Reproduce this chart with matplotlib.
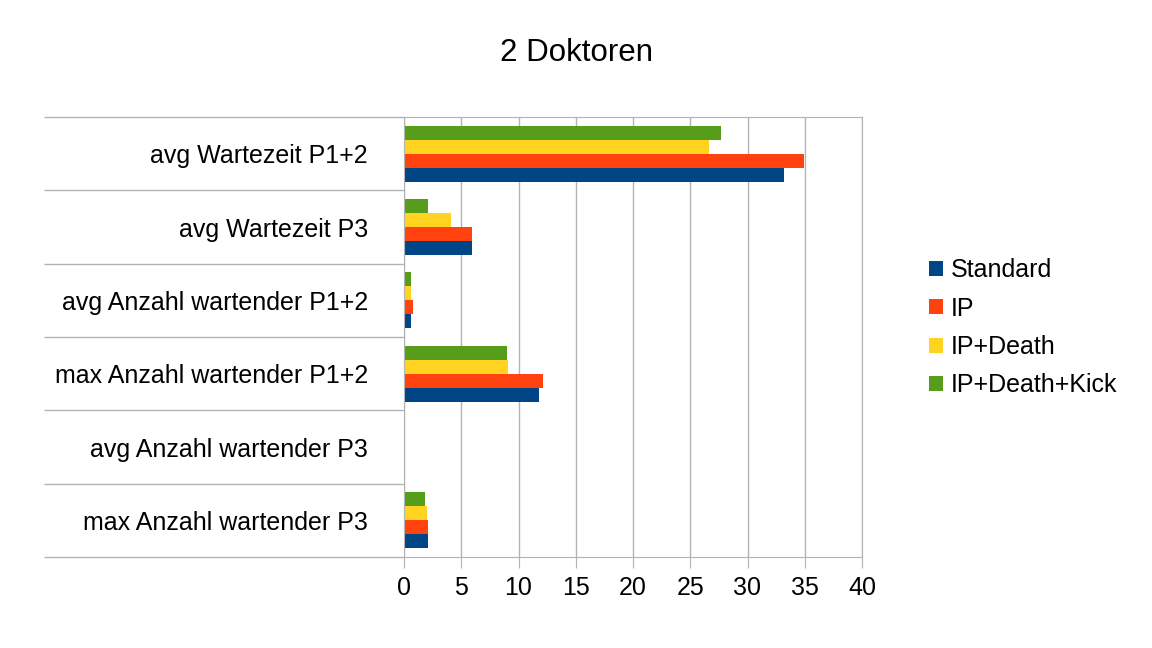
import matplotlib as mpl
mpl.use('Agg')

import matplotlib.pyplot as plt
import numpy as np

plt.rcParams['font.family'] = ['Liberation Sans', 'DejaVu Sans']

# Daten
kategorien = ["avg Wartezeit P1+2", "avg Wartezeit P3", "avg Anzahl wartender P1+2",
              "max Anzahl wartender P1+2", "avg Anzahl wartender P3", "max Anzahl wartender P3"]
serien = ["Standard", "IP", "IP+Death", "IP+Death+Kick"]
standard = [33.2, 5.9, 0.6, 11.8, 0.0, 2.1]
ip = [34.9, 5.9, 0.78, 12.1, 0.0, 2.1]
ip_death = [26.65, 4.1, 0.6, 9.05, 0.0, 2.0]
ip_death_kick = [27.7, 2.1, 0.6, 9.0, 0.0, 1.85]
x_ticks = [0, 5, 10, 15, 20, 25, 30, 35, 40]

farben = ['#004586', '#ff420e', '#ffd320', '#579d1c']
grau = '#b3b3b3'

fig = plt.figure(figsize=(11.52, 6.48), dpi=100)
ax = fig.add_axes([404/1152, 1 - 557/648, (862-404)/1152, (557-117)/648])

pos = np.arange(len(kategorien))
h = 0.19
werte = [standard, ip, ip_death, ip_death_kick]
# Standard unten, IP+Death+Kick oben
offsets = [1.5*h, 0.5*h, -0.5*h, -1.5*h]
for w, off, c, name in zip(werte, offsets, farben, serien):
    ax.barh(pos + off, w, height=h, color=c, label=name)

ax.set_xlim(0, 40)
ax.set_ylim(len(kategorien) - 0.5, -0.5)
ax.set_xticks(x_ticks)
ax.tick_params(axis='x', direction='out', length=8, color=grau, labelsize=18, pad=6)

# Trennlinien links = lange Ticks, Beschriftung auf Nebenticks
ax.set_yticks(np.arange(len(kategorien) + 1) - 0.5)
ax.set_yticklabels([])
ax.tick_params(axis='y', which='major', direction='out', length=259, color=grau, width=1)
ax.set_yticks(pos, minor=True)
ax.set_yticklabels(kategorien, minor=True)
ax.tick_params(axis='y', which='minor', length=0, pad=26, labelsize=18)

ax.grid(True, axis='x', color=grau, linewidth=1)
ax.set_axisbelow(True)
for s in ax.spines.values():
    s.set_color(grau)

fig.text(576/1152, 1 - 53/648, "2 Doktoren", ha='center', va='center', fontsize=22.5)

fig.legend(loc='upper left', bbox_to_anchor=(929/1152, 1 - 258/648), frameon=False,
           fontsize=18, handlelength=0.56, handleheight=0.56, handletextpad=0.3,
           labelspacing=0.58, borderpad=0, borderaxespad=0)

plt.savefig("out.png", format="png", dpi=100)
